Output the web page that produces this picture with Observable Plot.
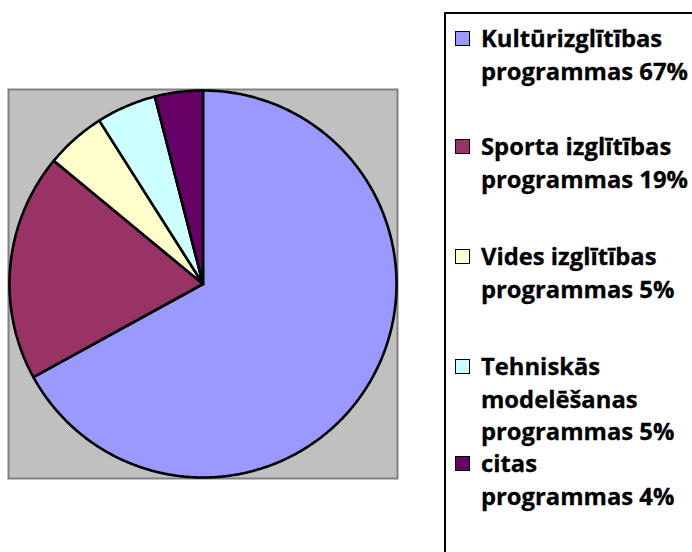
<!DOCTYPE html>
<html>
<head>
<meta charset="utf-8">
<script src="https://cdn.jsdelivr.net/npm/d3@7"></script>
<script src="https://cdn.jsdelivr.net/npm/@observablehq/plot@0.6"></script>
<style>
  html, body { margin: 0; padding: 0; background: #fff; }
  #wrap { position: relative; width: 692px; height: 552px; overflow: hidden; }
  #chart { position: absolute; left: 0; top: 0; }
  #legend { position: absolute; left: 444px; top: 12px; width: 280px; height: 600px;
            border: 2px solid #000; box-sizing: border-box; }
  .item { position: absolute; left: 35px; font-family: "Open Sans", sans-serif; font-weight: 700;
          font-size: 23.8px; line-height: 32.5px; color: #000; white-space: nowrap;
          -webkit-text-stroke: 0.3px #000; }
  .sw { position: absolute; left: -26px; top: 9px; width: 13px; height: 13px; border: 1.5px solid #000; }
</style>
</head>
<body>
<div id="wrap">
  <div id="chart"></div>
  <div id="legend"></div>
</div>
<script>
const categories = ["Kultūrizglītības programmas", "Sporta izglītības programmas", "Vides izglītības programmas", "Tehniskās modelēšanas programmas", "citas programmas"];
const legendLines = [
  ["Kultūrizglītības", "programmas 67%"],
  ["Sporta izglītības", "programmas 19%"],
  ["Vides izglītības", "programmas 5%"],
  ["Tehniskās", "modelēšanas", "programmas 5%"],
  ["citas", "programmas 4%"]
];
const values = [67, 19, 5, 5, 4];
const colors = ["#9999FF", "#993366", "#FFFFCC", "#CCFFFF", "#660066"];

// Build slice outlines from the pie layout
const arcs = d3.pie().sort(null).value(d => d)(values);
const R = 0.995;
const pts = [];
arcs.forEach((a, i) => {
  const cat = categories[i];
  pts.push({cat, x: 0, y: 0});
  const n = Math.max(4, Math.ceil((a.endAngle - a.startAngle) / (Math.PI / 360)));
  for (let k = 0; k <= n; k++) {
    const t = a.startAngle + (a.endAngle - a.startAngle) * k / n;
    pts.push({cat, x: R * Math.sin(t), y: R * Math.cos(t)});
  }
  pts.push({cat, x: 0, y: 0});
});

const plot = Plot.plot({
  width: 410,
  height: 552,
  marginLeft: 8,
  marginTop: 89,
  marginRight: 13,
  marginBottom: 74,
  x: {domain: [-1, 1], axis: null},
  y: {domain: [-1, 1], axis: null},
  color: {domain: categories, range: colors},
  marks: [
    Plot.frame({fill: "#C0C0C0", stroke: "#808080", strokeWidth: 2}),
    Plot.line(pts, {x: "x", y: "y", z: "cat", fill: "cat", stroke: "#000", strokeWidth: 2.6,
                    strokeLinejoin: "round", curve: "linear"})
  ]
});
document.getElementById("chart").appendChild(plot);

// Legend
const tops = [8, 116, 226, 336, 433];
const legend = document.getElementById("legend");
legendLines.forEach((lines, i) => {
  const div = document.createElement("div");
  div.className = "item";
  div.style.top = tops[i] + "px";
  const sw = document.createElement("div");
  sw.className = "sw";
  sw.style.background = colors[i];
  div.appendChild(sw);
  lines.forEach(l => {
    const ln = document.createElement("div");
    ln.textContent = l;
    div.appendChild(ln);
  });
  legend.appendChild(div);
});
</script>
</body>
</html>
